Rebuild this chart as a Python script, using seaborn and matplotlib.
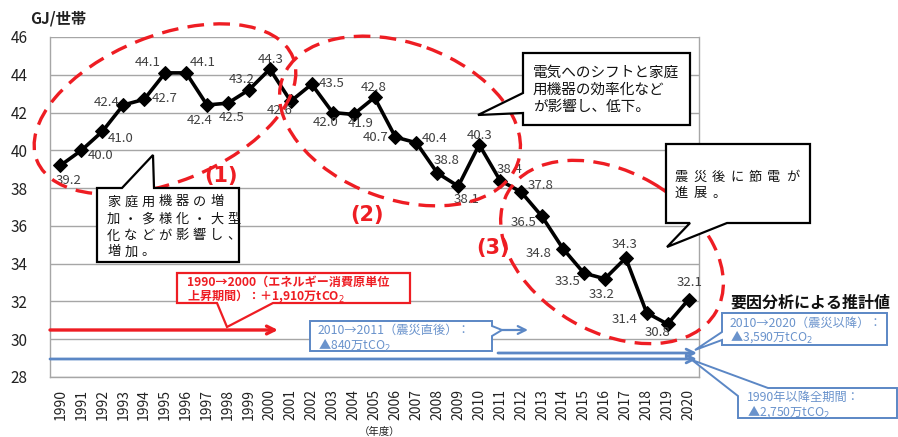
import pandas as pd
import seaborn as sns
import matplotlib.pyplot as plt
from matplotlib.patches import Ellipse, Polygon, FancyArrowPatch
from matplotlib.transforms import Affine2D

years = [str(y) for y in range(1990, 2021)]
energy = [39.2, 40.0, 41.0, 42.4, 42.7, 44.1, 44.1, 42.4, 42.5, 43.2,
          44.3, 42.6, 43.5, 42.0, 41.9, 42.8, 40.7, 40.4, 38.8, 38.1,
          40.3, 38.4, 37.8, 36.5, 34.8, 33.5, 33.2, 34.3, 31.4, 30.8, 32.1]
yticks = [28, 30, 32, 34, 36, 38, 40, 42, 44, 46]

# where each value label sits relative to its marker (pixels right, down)
label_off = [(8, 15), (19, 5), (18, 7), (-17, -2), (20, -1), (-17, -10), (17, -10),
             (-7, 16), (4, 14), (-7, -10), (1, -10), (-11, 9), (20, -1), (-7, 10),
             (7, 9), (-1, -10), (-20, 0), (18, -4), (9, -12), (8, 13), (0, -9),
             (9, -11), (20, -6), (-18, 6), (-24, 5), (-16, 8), (-3, 16), (-1, -14),
             (-22, 7), (-10, 8), (1, -17)]

df = pd.DataFrame({'year': years, 'value': energy})
df['idx'] = range(len(df))

sns.set_style('white')
plt.rcParams['font.family'] = ['Noto Sans CJK JP', 'DejaVu Sans']

W, H = 898, 437
fig = plt.figure(figsize=(W / 100, H / 100), dpi=100)
# pixel coords, origin top-left
pix = Affine2D().scale(1 / W, -1 / H).translate(0, 1) + fig.transFigure

ax = fig.add_axes([50 / W, 1 - 377 / H, (699 - 50) / W, (377 - 37) / H])
sns.lineplot(data=df, x='idx', y='value', color='black', marker='D',
             markersize=7, markeredgecolor='black', linewidth=2.6, ax=ax, zorder=5)

for i, v in enumerate(energy):
    dx, dy = label_off[i]
    ax.annotate(f'{v:.1f}', (i, v), xytext=(dx, -dy), textcoords='offset pixels',
                ha='center', va='center', fontsize=9.5, color='#404040', zorder=6)

ax.set_xlim(-0.5, 30.5)
ax.set_ylim(28, 46)
ax.set_yticks(yticks)
ax.set_xticks(range(len(years)))
ax.set_xticklabels(years, rotation=90, fontsize=10, color='#222222')
ax.set_xticks([i - 0.5 for i in range(len(years) + 1)], minor=True)
ax.tick_params(axis='x', which='major', length=0, pad=9)
ax.tick_params(axis='x', which='minor', length=5, color='#888888', width=1, direction='out')
ax.tick_params(axis='y', length=0, pad=16, labelsize=11, labelcolor='#222222')
ax.set_xlabel('')
ax.set_ylabel('')
ax.grid(axis='y', color='#a6a6a6', linewidth=1)
for s in ax.spines.values():
    s.set_color('#a6a6a6')
    s.set_linewidth(1)
ax.spines['top'].set_visible(False)

red = '#ee1d23'
blue = '#5b87c5'
blue_txt = '#6a93cc'

# dashed ellipses (center x, y, width, height, angle) in pixels
for cx, cy, w, h, a in [(165, 109, 276, 146, -22), (400, 121, 250, 156, 20),
                        (612, 252, 240, 160, 30)]:
    fig.add_artist(Ellipse((cx, cy), w, h, angle=a, transform=pix, fill=False,
                           edgecolor=red, linewidth=2.4, linestyle=(0, (5, 2.8)), zorder=4))

for txt, x, y in [('(1)', 221, 176), ('(2)', 367, 215), ('(3)', 493, 248)]:
    fig.text(x, y, txt, transform=pix, ha='center', va='center', color=red,
             fontsize=15, fontweight='bold', family='DejaVu Sans')


def callout(pts, ec, lw):
    fig.add_artist(Polygon(pts, closed=True, transform=pix, facecolor='white',
                           edgecolor=ec, linewidth=lw, zorder=7))


def lines(x, ys, texts, **kw):
    for y, t in zip(ys, texts):
        fig.text(x, y, t, transform=pix, ha='left', va='center', zorder=8, **kw)


def spaced(x, ys, texts, pitch, **kw):
    # the original boxes use wide letter spacing
    for y, t in zip(ys, texts):
        for k, ch in enumerate(t):
            fig.text(x + k * pitch, y, ch, transform=pix, ha='left', va='center',
                     zorder=8, **kw)


callout([(97, 188), (122, 188), (153, 155), (154, 188), (239, 188), (239, 262), (97, 262)], 'black', 1.6)
spaced(107, [202, 219, 236, 252], ['家庭用機器の増', '加・多様化・大型', '化などが影響し、', '増加。'],
       17.2, fontsize=9.5, color='#111111')

callout([(523, 53), (690, 53), (690, 125), (523, 125), (523, 113), (478, 115), (523, 93)], 'black', 1.6)
lines(533, [73, 90, 107], ['電気へのシフトと家庭', '用機器の効率化など', 'が影響し、低下。'],
      fontsize=10.5, color='#111111')

callout([(666, 144), (810, 144), (810, 223), (727, 223), (667, 247), (690, 223), (666, 223)], 'black', 1.6)
spaced(675, [177, 193], ['震災後に節電が', '進展。'], 18.5, fontsize=9.5, color='#111111')

callout([(177, 273), (410, 273), (410, 303), (273, 303), (227, 327), (217, 303), (177, 303)], red, 1.6)
lines(187, [282, 296], ['1990→2000（エネルギー消費原単位', '上昇期間）：＋1,910万tCO$_2$'],
      fontsize=8.7, fontweight='bold', color=red)

callout([(310, 321), (492, 321), (492, 326), (502, 330), (492, 336), (492, 351), (310, 351)], blue, 1.4)
lines(318, [330, 345], ['2010→2011（震災直後）：', '▲840万tCO$_2$'], fontsize=8.8, color=blue_txt)

callout([(722, 313), (887, 313), (887, 345), (722, 345), (722, 340), (695, 350), (722, 332)], blue, 1.4)
lines(730, [323, 337], ['2010→2020（震災以降）：', '▲3,590万tCO$_2$'], fontsize=8.8, color=blue_txt)

callout([(768, 388), (897, 388), (897, 418), (738, 418), (738, 396), (692, 360)], blue, 1.4)
lines(747, [397, 412], ['1990年以降全期間：', '▲2,750万tCO$_2$'], fontsize=8.8, color=blue_txt)

# period arrows
for (x0, y0), (x1, y1), c, lw in [((50, 330), (278, 330), red, 2.4),
                                  ((50, 359), (697, 359), blue, 2.0),
                                  ((498, 353), (697, 353), blue, 2.0),
                                  ((502, 330), (528, 330), blue, 1.6)]:
    fig.add_artist(FancyArrowPatch((x0, y0), (x1, y1), transform=pix, color=c,
                                   arrowstyle='->', mutation_scale=14, linewidth=lw,
                                   shrinkA=0, shrinkB=0, zorder=6))

fig.text(730, 303, '要因分析による推計値', transform=pix, ha='left', va='center',
         fontsize=11.5, fontweight='bold', color='#111111')
fig.text(30, 19, 'GJ/世帯', transform=pix, ha='left', va='center',
         fontsize=11, fontweight='bold', color='#222222')
fig.text(380, 432, '（年度）', transform=pix, ha='center', va='center',
         fontsize=7.5, color='#222222')

fig.savefig('out.png', dpi=100)
